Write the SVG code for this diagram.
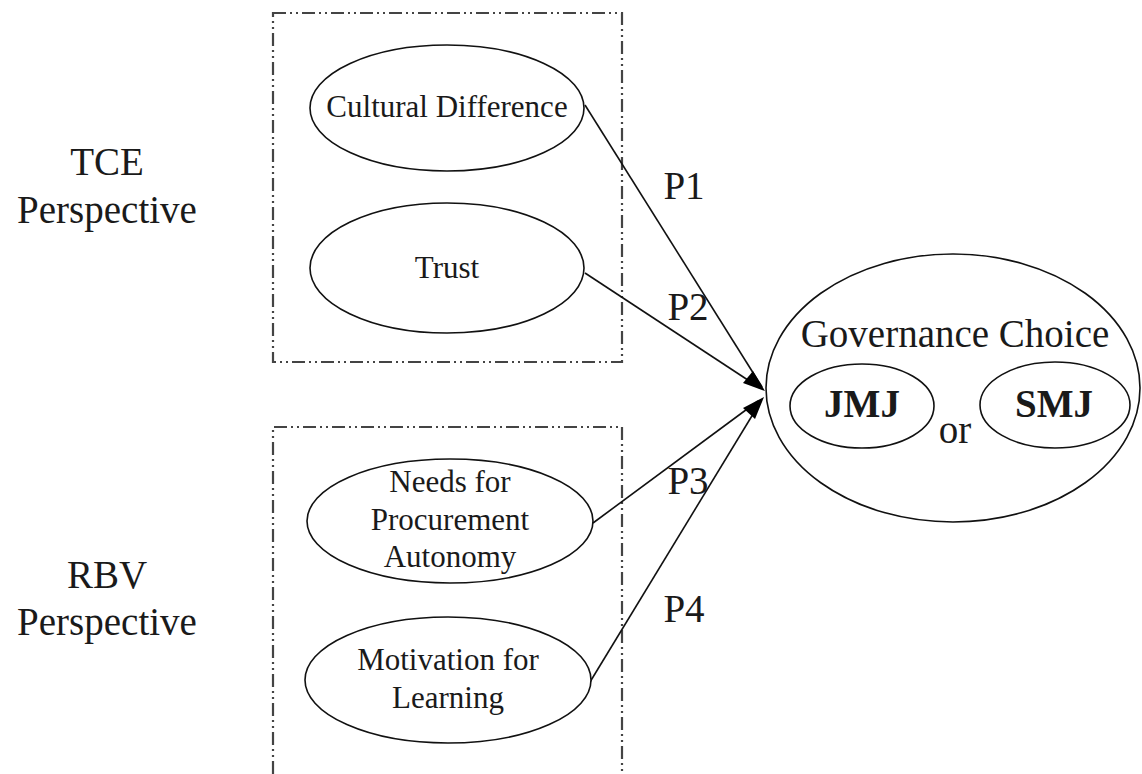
<svg xmlns="http://www.w3.org/2000/svg" width="1142" height="774" viewBox="0 0 1142 774">
<style>
  .bg { fill: #ffffff; }
  .box { fill: none; stroke: #444444; stroke-width: 2.2; stroke-dasharray: 13 4 2 4 2 4; }
  .node { fill: #ffffff; stroke: #111111; stroke-width: 1.6; }
  .t { font-family: "Liberation Serif", "Times New Roman", serif; fill: #1a1a1a; text-anchor: middle; }
  .lbl { font-size: 31px; }
  .big { font-size: 39px; }
  .bold { font-size: 39px; font-weight: bold; }
  .conn { fill: none; stroke: #111111; stroke-width: 1.6; }
  .head { fill: #000000; stroke: none; }
</style>
<rect class="bg" x="0" y="0" width="1142" height="774"/>

<g id="tce-label">
  <text class="t big" x="107" y="175">TCE</text>
  <text class="t big" x="107" y="223">Perspective</text>
</g>
<g id="rbv-label">
  <text class="t big" x="107" y="588">RBV</text>
  <text class="t big" x="107" y="635">Perspective</text>
</g>

<g id="tce-box">
  <rect class="box" x="273" y="13" width="349" height="349"/>
</g>
<g id="rbv-box">
  <path class="box" d="M273,774 L273,427 L622,427 L622,774"/>
</g>

<g id="connectors">
  <line class="conn" x1="585" y1="105" x2="762" y2="387"/>
  <line class="conn" x1="585" y1="273" x2="760" y2="388"/>
  <line class="conn" x1="593" y1="523" x2="758" y2="401"/>
  <line class="conn" x1="590" y1="682" x2="761" y2="401"/>
  <polygon class="head" points="765,391 743,383 753,371"/>
  <polygon class="head" points="764,397 755,419 743,408"/>
  <text class="t big" x="684" y="199">P1</text>
  <text class="t big" x="688" y="320">P2</text>
  <text class="t big" x="688" y="494">P3</text>
  <text class="t big" x="684" y="622">P4</text>
</g>

<g id="cultural-difference">
  <ellipse class="node" cx="447" cy="108" rx="137" ry="63"/>
  <text class="t lbl" x="447" y="117">Cultural Difference</text>
</g>
<g id="trust">
  <ellipse class="node" cx="447" cy="268" rx="137" ry="65"/>
  <text class="t lbl" x="447" y="278">Trust</text>
</g>
<g id="needs-procurement-autonomy">
  <ellipse class="node" cx="450" cy="521" rx="143" ry="62"/>
  <text class="t lbl" x="450" y="492">Needs for</text>
  <text class="t lbl" x="450" y="530">Procurement</text>
  <text class="t lbl" x="450" y="567">Autonomy</text>
</g>
<g id="motivation-learning">
  <ellipse class="node" cx="448" cy="680" rx="143" ry="63"/>
  <text class="t lbl" x="448" y="670">Motivation for</text>
  <text class="t lbl" x="448" y="708">Learning</text>
</g>

<g id="governance-choice">
  <ellipse class="node" cx="953" cy="388" rx="187" ry="134"/>
  <text class="t big" x="955" y="347">Governance Choice</text>
  <text class="t big" x="955" y="443">or</text>
</g>
<g id="jmj">
  <ellipse class="node" cx="862" cy="406" rx="72" ry="42"/>
  <text class="t bold" x="862" y="417">JMJ</text>
</g>
<g id="smj">
  <ellipse class="node" cx="1055" cy="405" rx="75" ry="43"/>
  <text class="t bold" x="1054" y="417">SMJ</text>
</g>
</svg>
